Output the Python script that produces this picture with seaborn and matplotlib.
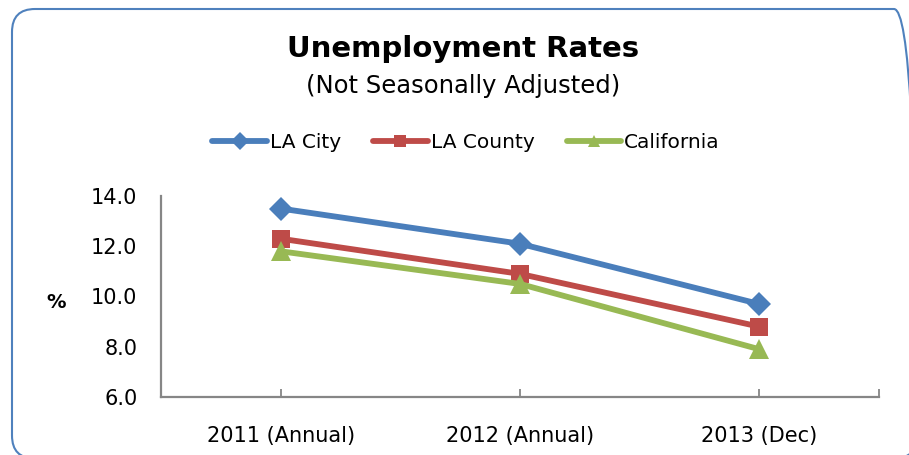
import matplotlib
matplotlib.use("Agg")
import matplotlib.pyplot as plt
from matplotlib.patches import FancyBboxPatch
from matplotlib.lines import Line2D
import seaborn as sns
import pandas as pd

periods = ["2011 (Annual)", "2012 (Annual)", "2013 (Dec)"]
la_city = [13.5, 12.1, 9.7]
la_county = [12.3, 10.9, 8.8]
california = [11.8, 10.5, 7.9]
series_names = ["LA City", "LA County", "California"]
y_ticks = [6.0, 8.0, 10.0, 12.0, 14.0]

colors = {"LA City": "#4A7EBB", "LA County": "#BE4B48", "California": "#98B954"}
markers = {"LA City": "D", "LA County": "s", "California": "^"}
marker_sizes = {"LA City": 12.5, "LA County": 13.5, "California": 15}

df = pd.DataFrame({
    "period": periods * 3,
    "rate": la_city + la_county + california,
    "area": [n for n in series_names for _ in periods],
})

sns.set_theme(style="white")
plt.rcParams["font.family"] = ["DejaVu Sans"]
plt.rcParams["text.color"] = "black"
plt.rcParams["xtick.color"] = "black"
plt.rcParams["ytick.color"] = "black"

W, H = 909, 455
fig = plt.figure(figsize=(W / 100, H / 100), dpi=100)
ax = fig.add_axes([161 / W, 1 - 397 / H, (879 - 161) / W, (397 - 196) / H])

sns.lineplot(data=df, x="period", y="rate", hue="area", style="area",
             hue_order=series_names, style_order=series_names,
             palette=colors, markers=markers, dashes=False,
             linewidth=4.2, markeredgewidth=0, sort=False,
             legend=False, ax=ax)
for line, name in zip(ax.get_lines(), series_names):
    line.set_markersize(marker_sizes[name])

ax.set_xlim(-0.5, 2.5)
ax.set_ylim(6, 14)
ax.set_yticks(y_ticks)
ax.set_yticklabels([f"{v:.1f}" for v in y_ticks], fontsize=15)
ax.set_xticks(range(len(periods)))
ax.set_xticklabels(periods, fontsize=15)
ax.set_xticks([2.5], minor=True)
ax.tick_params(axis="x", which="both", bottom=True, direction="in",
               length=6, width=1.3, color="#868686", pad=21)
ax.tick_params(axis="y", left=False, length=0, pad=17)
ax.set_xlabel("")
ax.set_ylabel("")
fig.text(56 / W, 1 - 302 / H, "%", ha="center", va="center",
         fontsize=14, fontweight="bold")

for side in ("top", "right"):
    ax.spines[side].set_visible(False)
for side in ("left", "bottom"):
    ax.spines[side].set_color("#868686")
    ax.spines[side].set_linewidth(1.6)

fig.text(463 / W, 1 - 49 / H, "Unemployment Rates", ha="center",
         va="center", fontsize=21, fontweight="bold")
fig.text(463 / W, 1 - 86 / H, "(Not Seasonally Adjusted)", ha="center",
         va="center", fontsize=17.5)

handles = [Line2D([], [], color=colors[n], marker=markers[n], lw=4.2,
                  markersize=9, markeredgewidth=0) for n in series_names]
fig.legend(handles, series_names, loc="center", ncol=3,
           bbox_to_anchor=(466 / W, 1 - 143 / H), frameon=False,
           fontsize=14.5, handlelength=2.7, handletextpad=0.15,
           columnspacing=1.6)

# rounded frame around the chart area, laid out in inches
left, right, bottom, top = 0.12, 9.17, -0.035, 4.46
border = FancyBboxPatch((left, bottom), right - left, top - bottom,
                        boxstyle="round,pad=0,rounding_size=0.23",
                        transform=fig.dpi_scale_trans, fill=False,
                        edgecolor="#4F81BD", linewidth=1.5, zorder=0)
fig.patches.append(border)

fig.savefig("out.png", dpi=100)
